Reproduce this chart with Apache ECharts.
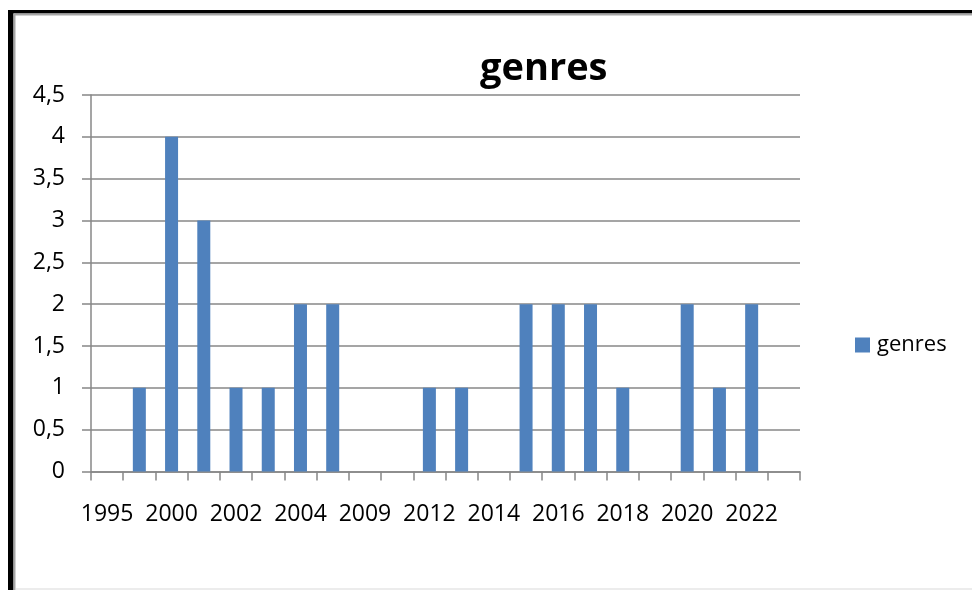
<!DOCTYPE html>
<html>
<head>
<meta charset="utf-8">
<title>genres</title>
<script src="https://cdn.jsdelivr.net/npm/echarts@6/dist/echarts.min.js"></script>
<style>
  html, body { margin: 0; padding: 0; background: #fff; }
  #genres-chart { width: 972px; height: 590px; }
</style>
</head>
<body>
<div id="genres-chart"></div>
<script>
// data
const years = ['1995', '1999', '2000', '2001', '2002', '2003', '2004', '2005', '2009', '2010', '2012',
  '2013', '2014', '2015', '2016', '2017', '2018', '2019', '2020', '2021', '2022', '2023']
const genres = [0, 1, 4, 3, 1, 1, 2, 2, 0, 0, 1, 1, 0, 2, 2, 2, 1, 0, 2, 1, 2, 0]
const seriesName = 'genres'

const font = 'Open Sans'
const gray = '#878787'

const chart = echarts.init(document.getElementById('genres-chart'))

const option = {
  animation: false,
  title: {
    text: 'genres',
    left: 475,
    top: 45,
    textStyle: { fontFamily: font, fontSize: 38, fontWeight: 'bold', color: '#000' }
  },
  legend: {
    data: [seriesName],
    left: 855,
    top: 334,
    padding: 0,
    itemWidth: 15,
    itemHeight: 15,
    icon: 'rect',
    textStyle: { fontFamily: font, fontSize: 22, color: '#000', padding: [0, 0, 0, 2] }
  },
  grid: {
    left: 91,
    right: 172,
    top: 95,
    bottom: 118.5
  },
  xAxis: {
    type: 'category',
    data: years,
    axisLine: { lineStyle: { color: gray, width: 1.5 } },
    axisTick: { show: true, interval: 0, length: 9, lineStyle: { color: gray, width: 1.5 } },
    axisLabel: { interval: 1, margin: 31, fontFamily: font, fontSize: 23, color: '#000' }
  },
  yAxis: {
    type: 'value',
    min: 0,
    max: 4.5,
    interval: 0.5,
    axisLine: { show: true, lineStyle: { color: gray, width: 1.5 } },
    axisTick: { show: true, length: 9, lineStyle: { color: gray, width: 1.5 } },
    splitLine: { lineStyle: { color: gray, width: 1.5 } },
    axisLabel: {
      margin: 26,
      fontFamily: font,
      fontSize: 23,
      color: '#000',
      formatter: v => String(v).replace('.', ',')
    }
  },
  series: [
    {
      name: seriesName,
      type: 'bar',
      data: genres,
      barWidth: 13,
      itemStyle: { color: '#4F81BD' }
    }
  ],
  graphic: [
    // frame around the picture
    { type: 'rect', shape: { x: 8, y: 10, width: 964, height: 3.5 }, style: { fill: '#000' } },
    { type: 'rect', shape: { x: 8, y: 10, width: 5.5, height: 580 }, style: { fill: '#000' } },
    { type: 'rect', shape: { x: 13.5, y: 13.5, width: 958.5, height: 2 }, style: { fill: '#a6a6a6' } },
    { type: 'rect', shape: { x: 13.5, y: 13.5, width: 2, height: 577 }, style: { fill: '#a6a6a6' } },
    { type: 'rect', shape: { x: 16, y: 588, width: 956, height: 2 }, style: { fill: '#ececec' } }
  ]
}

chart.setOption(option)
</script>
</body>
</html>
